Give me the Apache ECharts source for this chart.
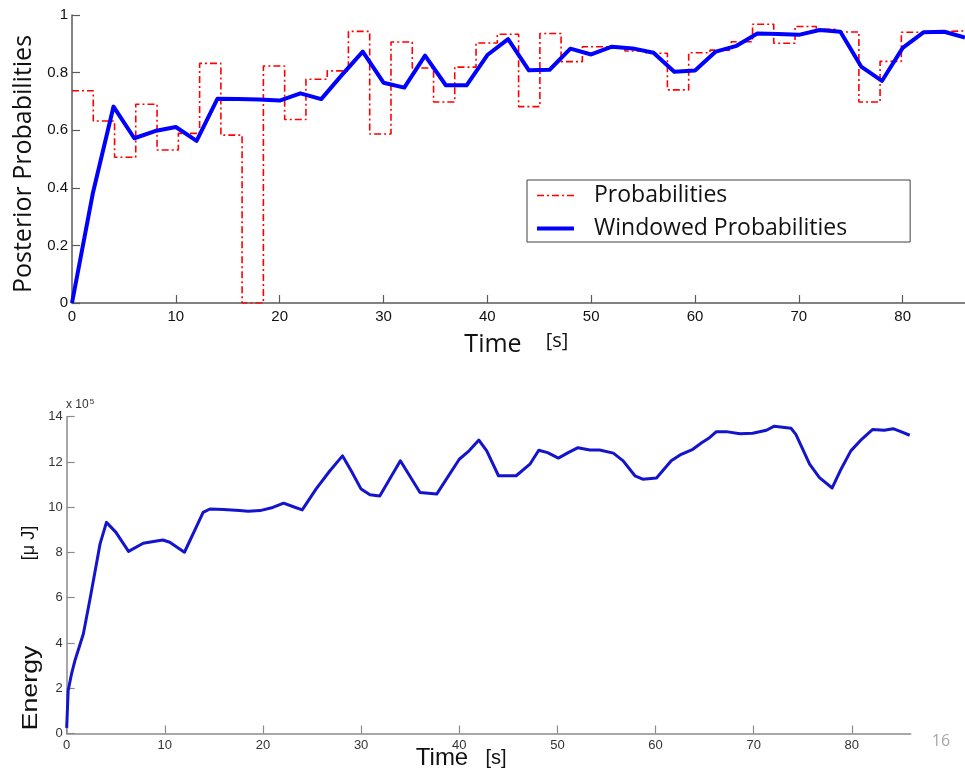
<!DOCTYPE html>
<html>
<head>
<meta charset="utf-8">
<title>Posterior Probabilities and Energy</title>
<script src="https://cdn.jsdelivr.net/npm/echarts@6/dist/echarts.min.js"></script>
<style>
  html, body { margin: 0; padding: 0; background: #ffffff; }
  #chart { width: 965px; height: 772px; }
</style>
</head>
<body>
<div id="chart"></div>
<script>
// Step edges (s) of the per-window posterior probability
const probStepTimes = [0, 2.05, 4.1, 6.14, 8.19, 10.24, 12.29, 14.34, 16.38, 18.43, 20.48,
  22.53, 24.58, 26.62, 28.67, 30.72, 32.77, 34.82, 36.86, 38.91, 40.96, 43.01, 45.06,
  47.1, 49.15, 51.2, 53.25, 55.3, 57.34, 59.39, 61.44, 63.49, 65.54, 67.58, 69.63,
  71.68, 73.73, 75.78, 77.82, 79.87, 81.92, 83.97, 86];
// Probability held over each step
const probStepValues = [0.737, 0.632, 0.506, 0.690, 0.531, 0.589, 0.832, 0.583, 0, 0.823,
  0.637, 0.777, 0.806, 0.943, 0.587, 0.906, 0.816, 0.698, 0.819, 0.903, 0.933, 0.682,
  0.936, 0.838, 0.890, 0.890, 0.875, 0.867, 0.740, 0.869, 0.878, 0.907, 0.968, 0.902,
  0.960, 0.950, 0.941, 0.698, 0.839, 0.940, 0.942, 0.945];

// Windowed probabilities, sampled every 2 s
const windowTimes = [0, 2, 4, 6, 8, 10, 12, 14, 16, 18, 20, 22, 24, 26, 28, 30, 32, 34, 36,
  38, 40, 42, 44, 46, 48, 50, 52, 54, 56, 58, 60, 62, 64, 66, 68, 70, 72, 74, 76, 78, 80,
  82, 84, 86];
const windowValues = [0, 0.38, 0.682, 0.572, 0.597, 0.611, 0.563, 0.709, 0.708, 0.707,
  0.703, 0.728, 0.708, 0.792, 0.873, 0.765, 0.748, 0.859, 0.756, 0.756, 0.861, 0.916,
  0.808, 0.810, 0.883, 0.863, 0.890, 0.884, 0.869, 0.803, 0.807, 0.873, 0.893, 0.936,
  0.934, 0.931, 0.948, 0.942, 0.821, 0.771, 0.886, 0.940, 0.942, 0.922];

// Energy trace (µJ, in units of 10^5)
const energyTimes = [0, 0.15, 0.5, 0.85, 1.7, 2.4, 3.4, 4.05, 5.0, 6.3, 7.8, 9.0, 9.8,
  10.5, 12.0, 13.9, 14.6, 16.0, 17.6, 18.5, 19.7, 21.0, 22.1, 23.1, 24.0, 25.4, 26.8,
  28.1, 29.0, 30.0, 30.9, 31.9, 34.0, 36.0, 37.7, 40.0, 41.0, 42.0, 42.8, 44.0, 45.8,
  47.2, 48.1, 49.0, 50.1, 51.1, 52.1, 53.3, 54.3, 55.7, 56.7, 57.9, 58.7, 60.1, 61.6,
  62.5, 63.8, 64.7, 65.5, 66.2, 67.2, 68.6, 69.9, 71.3, 72.1, 73.8, 74.3, 75.7, 76.7,
  78.0, 78.9, 79.9, 81.0, 82.1, 83.3, 84.2, 85.0, 85.9];
const energyValues = [0.25, 1.9, 2.65, 3.24, 4.41, 6.0, 8.38, 9.33, 8.9, 8.05, 8.41, 8.5,
  8.55, 8.45, 8.01, 9.77, 9.92, 9.9, 9.85, 9.82, 9.85, 9.99, 10.18, 10.02, 9.88, 10.8,
  11.6, 12.27, 11.6, 10.8, 10.55, 10.5, 12.05, 10.65, 10.58, 12.12, 12.49, 12.97, 12.49,
  11.39, 11.39, 11.9, 12.52, 12.41, 12.17, 12.41, 12.63, 12.53, 12.53, 12.39, 12.05,
  11.39, 11.24, 11.29, 12.05, 12.31, 12.56, 12.85, 13.07, 13.34, 13.34, 13.25, 13.27,
  13.4, 13.58, 13.49, 13.22, 11.9, 11.31, 10.85, 11.68, 12.49, 13.0, 13.43, 13.4, 13.47,
  13.34, 13.18];

// Tick labels
const timeTicks = [0, 10, 20, 30, 40, 50, 60, 70, 80];
const probTicks = [0, 0.2, 0.4, 0.6, 0.8, 1];
const energyTicks = [0, 2, 4, 6, 8, 10, 12, 14];

// Step series: each value holds until the next edge; repeat the last one at the end
const probData = probStepTimes.map((t, i) =>
  [t, probStepValues[Math.min(i, probStepValues.length - 1)]]);
const windowData = windowTimes.map((t, i) => [t, windowValues[i]]);
const energyData = energyTimes.map((t, i) => [t, energyValues[i]]);

const chart = echarts.init(document.getElementById('chart'), null, { renderer: 'canvas' });

const topAxisColor = '#5a5a5a';
const bottomAxisColor = '#8a8a8a';

function timeAxis(gridIndex, color, fontSize, labelColor, margin) {
  return {
    type: 'value', gridIndex, min: 0, max: 86,
    axisLine: { show: true, lineStyle: { color, width: 1.5 } },
    axisTick: { show: true, inside: true, length: 8, customValues: timeTicks,
      lineStyle: { color, width: 1.2 } },
    axisLabel: { customValues: timeTicks, color: labelColor, fontSize,
      fontFamily: 'Liberation Sans', margin },
    splitLine: { show: false }
  };
}

chart.setOption({
  animation: false,
  backgroundColor: '#ffffff',
  grid: [
    { left: 72, top: 15, width: 896.5, height: 288 },
    { left: 66.7, top: 416.7, width: 844, height: 316.8 }
  ],
  xAxis: [
    timeAxis(0, topAxisColor, 15, '#111', 6),
    timeAxis(1, bottomAxisColor, 13, '#333', 5)
  ],
  yAxis: [
    {
      type: 'value', gridIndex: 0, min: 0, max: 1, interval: 0.2,
      axisLine: { show: true, lineStyle: { color: topAxisColor, width: 1.5 } },
      axisTick: { show: true, inside: true, length: 8, customValues: probTicks,
        lineStyle: { color: topAxisColor, width: 1.2 } },
      axisLabel: { customValues: probTicks, color: '#111', fontSize: 15,
        fontFamily: 'Liberation Sans', margin: 4 },
      splitLine: { show: false }
    },
    {
      type: 'value', gridIndex: 1, min: 0, max: 14, interval: 2,
      axisLine: { show: true, lineStyle: { color: bottomAxisColor, width: 1.5 } },
      axisTick: { show: true, inside: true, length: 8, customValues: energyTicks,
        lineStyle: { color: bottomAxisColor, width: 1.2 } },
      axisLabel: { customValues: energyTicks, color: '#333', fontSize: 13,
        fontFamily: 'Liberation Sans', margin: 4 },
      splitLine: { show: false }
    }
  ],
  legend: {
    show: true,
    data: [
      { name: 'Probabilities', lineStyle: { width: 1.6 } },
      { name: 'Windowed Probabilities', lineStyle: { width: 4 } }
    ],
    orient: 'vertical',
    left: 527, top: 180,
    padding: [4, 63, 2, 8],
    itemWidth: 37, itemHeight: 20, itemGap: 10,
    itemStyle: { opacity: 0 },
    backgroundColor: '#ffffff',
    borderColor: '#404040', borderWidth: 1, borderRadius: 0,
    textStyle: { fontFamily: 'Open Sans', fontSize: 23, color: '#111', padding: [0, 0, 0, 15] },
    selectedMode: false
  },
  series: [
    {
      name: 'Probabilities', type: 'line', xAxisIndex: 0, yAxisIndex: 0,
      step: 'end', data: probData, showSymbol: false, symbol: 'none',
      lineStyle: { color: '#ff0000', width: 1.6, type: [7, 3, 2, 3] },
      itemStyle: { color: '#ff0000' }, z: 2, silent: true
    },
    {
      name: 'Windowed Probabilities', type: 'line', xAxisIndex: 0, yAxisIndex: 0,
      data: windowData, showSymbol: false, symbol: 'none',
      lineStyle: { color: '#0000ff', width: 4, join: 'round' },
      itemStyle: { color: '#0000ff' }, z: 3, silent: true
    },
    {
      name: 'Energy', type: 'line', xAxisIndex: 1, yAxisIndex: 1,
      data: energyData, showSymbol: false, symbol: 'none',
      lineStyle: { color: '#1414cc', width: 3, join: 'round' },
      itemStyle: { color: '#1414cc' }, z: 3, silent: true
    }
  ],
  graphic: [
    { type: 'text', x: 24, y: 164, rotation: Math.PI / 2,
      style: { text: 'Posterior Probabilities', font: '25px "Open Sans"', fill: '#111',
        align: 'center', verticalAlign: 'middle' } },
    { type: 'text', x: 493, y: 345,
      style: { text: 'Time', font: '25px "Open Sans"', fill: '#111',
        align: 'center', verticalAlign: 'middle' } },
    { type: 'text', x: 557, y: 341,
      style: { text: '[s]', font: '20px "Open Sans"', fill: '#111',
        align: 'center', verticalAlign: 'middle' } },
    { type: 'text', x: 66, y: 405,
      style: { rich: { b: { fontSize: 12, fontFamily: 'Liberation Sans', fill: '#333' },
          s: { fontSize: 8, fontFamily: 'Liberation Sans', fill: '#333', verticalAlign: 'top', padding: [0, 0, 6, 1] } },
        text: '{b|x 10}{s|5}', align: 'left', verticalAlign: 'middle' } },
    { type: 'text', x: 31, y: 688, rotation: Math.PI / 2, scaleX: 1.22,
      style: { text: 'Energy', font: '22px "Liberation Sans"', fill: '#111',
        align: 'center', verticalAlign: 'middle' } },
    { type: 'text', x: 29, y: 543, rotation: Math.PI / 2,
      style: { text: '[\u03bc J]', font: '18px "Liberation Sans"', fill: '#111',
        align: 'center', verticalAlign: 'middle' } },
    { type: 'text', x: 442, y: 758,
      style: { text: 'Time', font: '24px "Liberation Sans"', fill: '#111',
        align: 'center', verticalAlign: 'middle' } },
    { type: 'text', x: 496, y: 758,
      style: { text: '[s]', font: '20px "Liberation Sans"', fill: '#111',
        align: 'center', verticalAlign: 'middle' } },
    { type: 'text', x: 941, y: 741,
      style: { text: '16', font: '16px "Open Sans"', fill: '#a6a6a6',
        align: 'center', verticalAlign: 'middle' } }
  ]
});
</script>
</body>
</html>
